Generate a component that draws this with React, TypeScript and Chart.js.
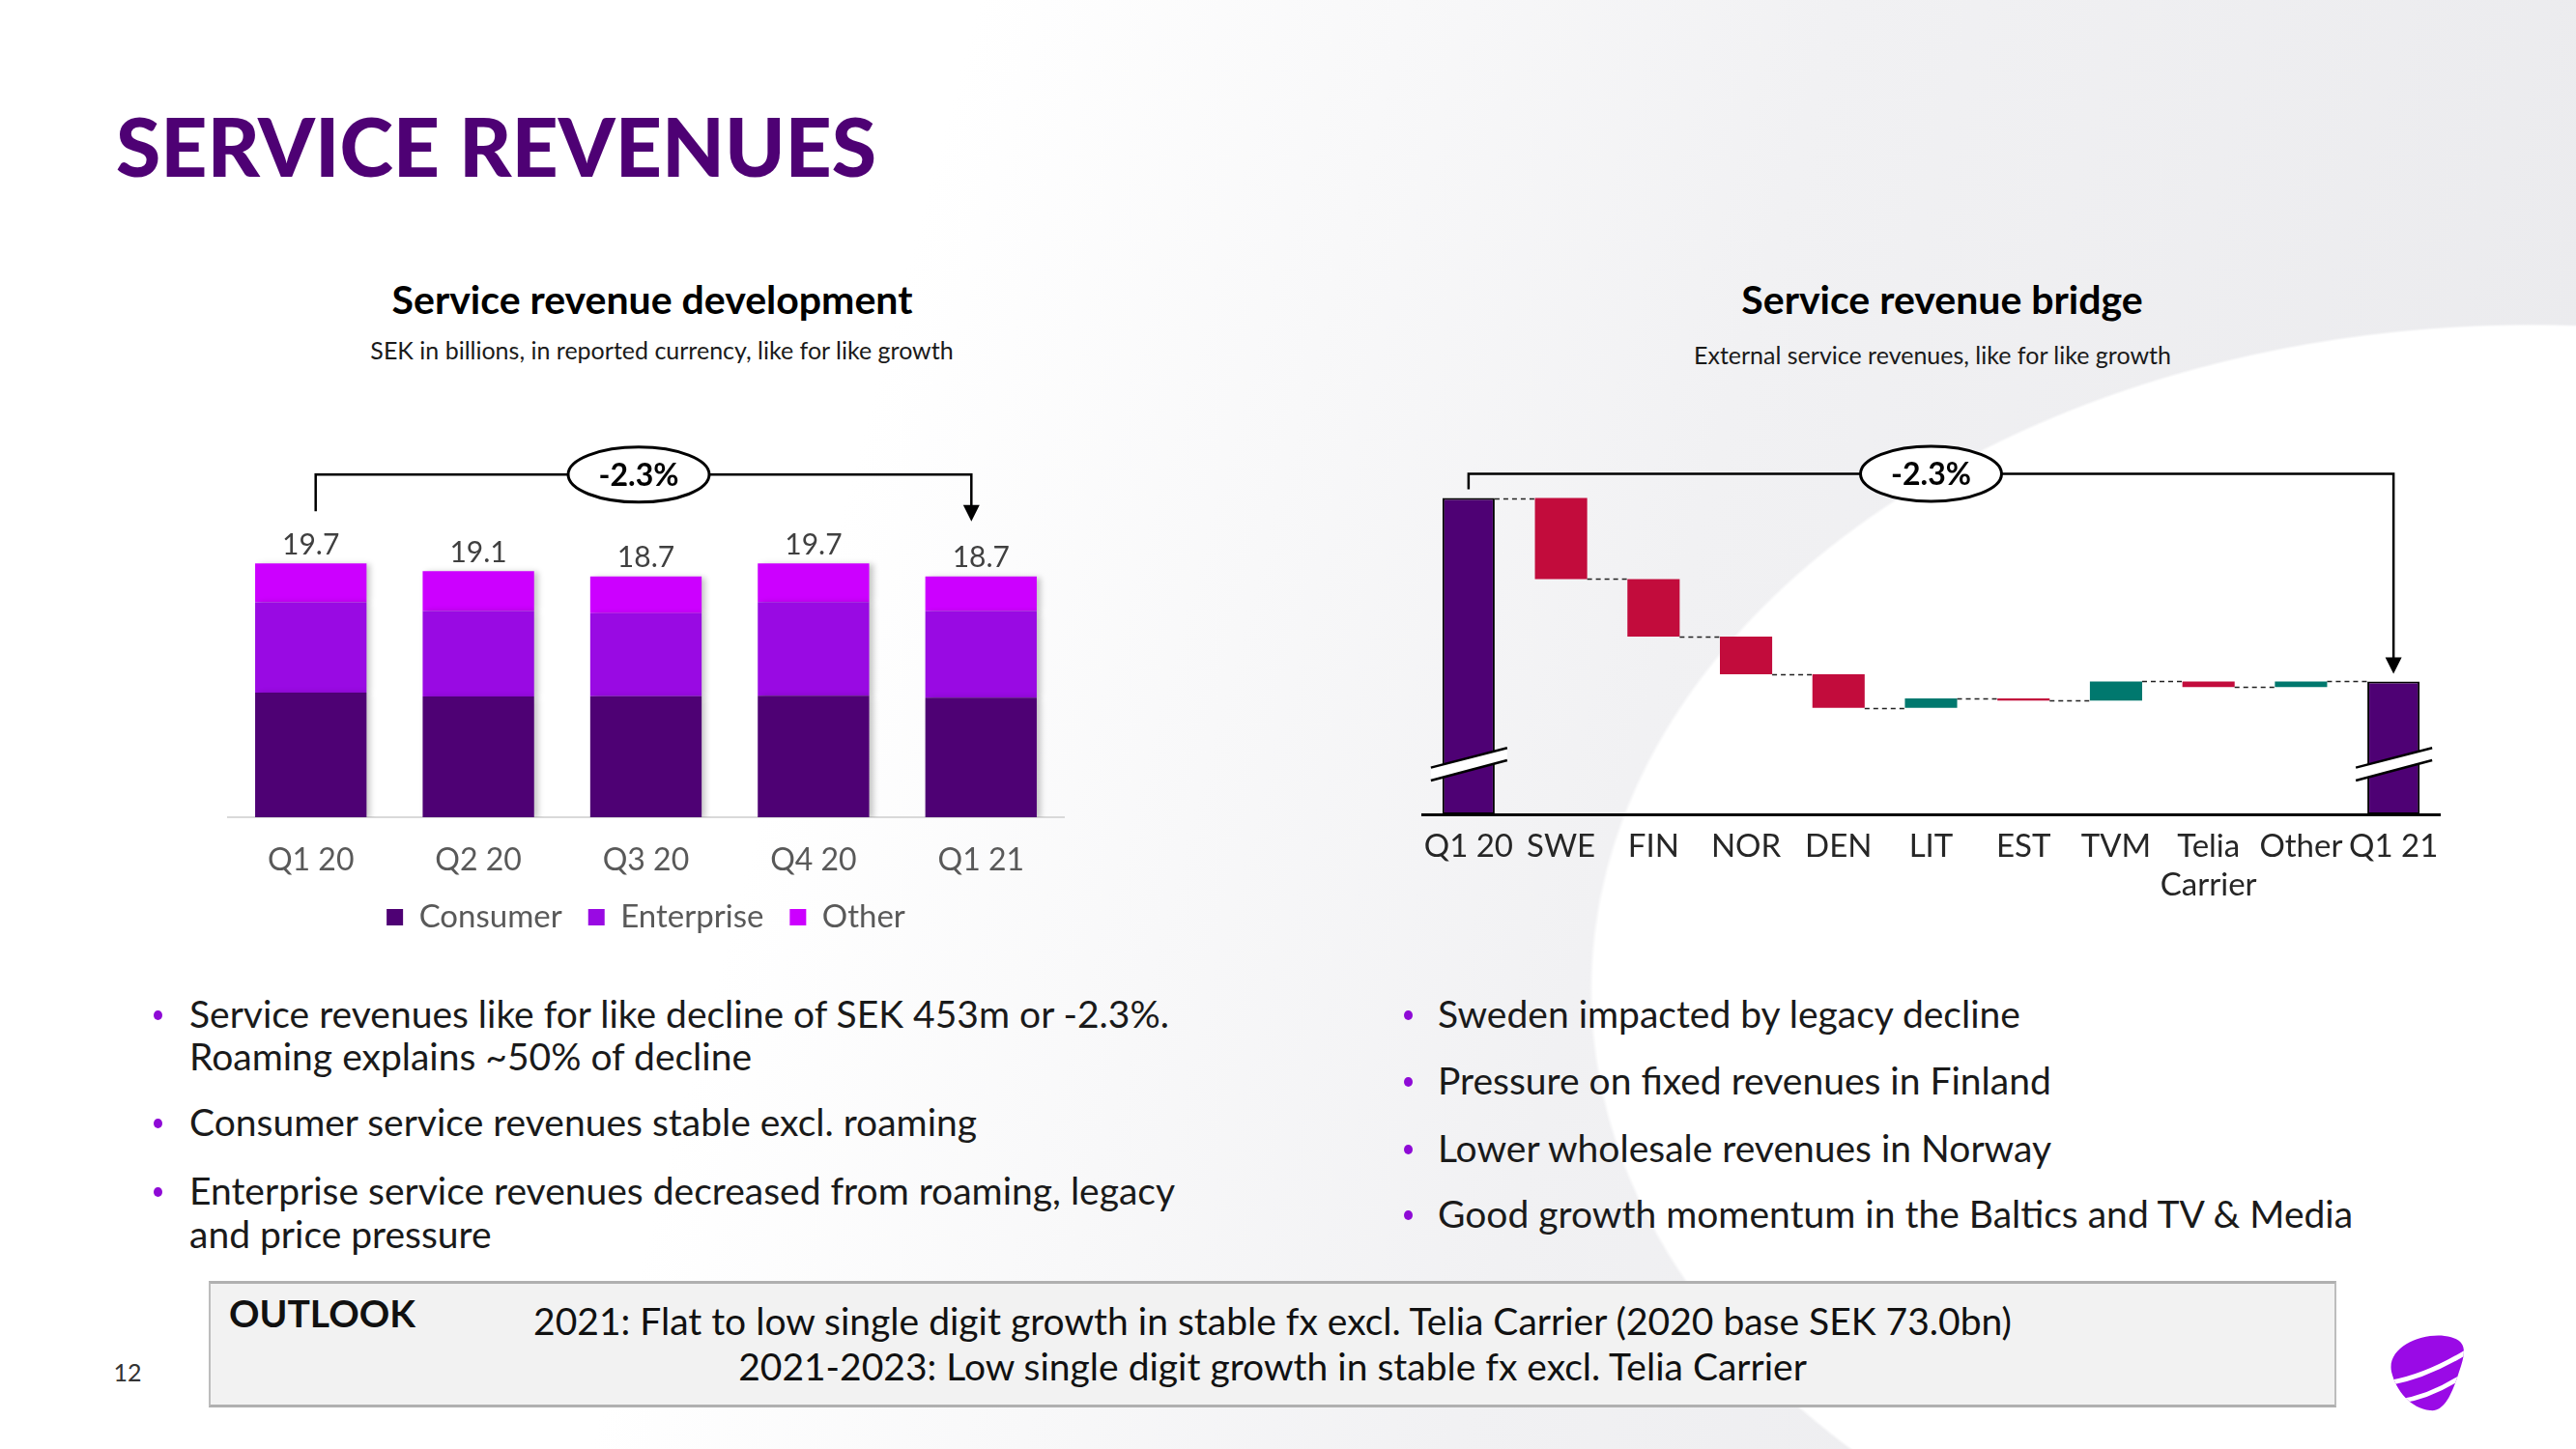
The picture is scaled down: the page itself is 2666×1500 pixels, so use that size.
import React, { useEffect, useRef } from 'react';
import { Chart, registerables } from 'chart.js';

Chart.register(...registerables);

// ---------- Left chart data (SEK bn) ----------
const QUARTERS = ['Q1 20', 'Q2 20', 'Q3 20', 'Q4 20', 'Q1 21'];
const CONSUMER = [9.68, 9.37, 9.39, 9.43, 9.29];
const ENTERPRISE = [7.01, 6.65, 6.46, 7.28, 6.72];
const OTHER = [3.01, 3.08, 2.85, 2.99, 2.69];
const SERIES_NAMES = ['Consumer', 'Enterprise', 'Other'];

// ---------- Right chart data (SEK m) ----------
const BRIDGE_LABELS: (string | string[])[] = ['Q1 20', 'SWE', 'FIN', 'NOR', 'DEN', 'LIT', 'EST', 'TVM', ['Telia', 'Carrier'], 'Other', 'Q1 21'];
const BRIDGE_START = 19696;
const BRIDGE_DELTAS = [-200, -142, -93, -83, 23, -5, 47, -14, 14];
const BRIDGE_AXIS_MIN = 18915;
const BRIDGE_AXIS_MAX = 19900;

const GROWTH_LABEL = '-2.3%';

const C_CONSUMER = '#4e0174';
const C_ENTERPRISE = '#990ae3';
const C_OTHER = '#cc00ff';
const C_RED = '#c20c3c';
const C_TEAL = '#00786e';

function drawBracket(ctx: CanvasRenderingContext2D, xL: number, xR: number, cx: number, yBar: number, legBottom: number, tipY: number, label: string) {
  ctx.save();
  ctx.strokeStyle = '#000';
  ctx.lineWidth = 2.5;
  ctx.beginPath();
  ctx.moveTo(xL, legBottom);
  ctx.lineTo(xL, yBar);
  ctx.lineTo(xR, yBar);
  ctx.lineTo(xR, tipY - 14);
  ctx.stroke();
  ctx.fillStyle = '#000';
  ctx.beginPath();
  ctx.moveTo(xR - 8.5, tipY - 17);
  ctx.lineTo(xR + 8.5, tipY - 17);
  ctx.lineTo(xR, tipY);
  ctx.closePath();
  ctx.fill();
  ctx.beginPath();
  ctx.ellipse(cx, yBar, 73, 28.5, 0, 0, Math.PI * 2);
  ctx.fillStyle = '#fff';
  ctx.fill();
  ctx.lineWidth = 3;
  ctx.stroke();
  ctx.fillStyle = '#000';
  ctx.font = 'bold 32px Lato';
  ctx.textAlign = 'center';
  ctx.textBaseline = 'middle';
  ctx.fillText(label, cx, yBar + 1);
  ctx.restore();
}

type TProps = { x: number; y: number; text: string; size: number; weight?: number; color?: string; align?: 'left' | 'center' };
function T({ x, y, text, size, weight = 400, color = '#1a1a1a', align = 'left' }: TProps) {
  return (
    <div
      style={{
        position: 'absolute',
        left: x,
        top: y - 0.63 * size,
        fontSize: size,
        lineHeight: `${size * 1.2}px`,
        fontWeight: weight,
        color,
        whiteSpace: 'nowrap',
        transform: align === 'center' ? 'translateX(-50%)' : undefined,
        fontFamily: 'Lato, sans-serif',
      }}
    >
      {text}
    </div>
  );
}

function Dot({ x, y }: { x: number; y: number }) {
  return <div style={{ position: 'absolute', left: x - 4.5, top: y - 5, width: 9, height: 10, borderRadius: '50%', background: '#8e0ad6' }} />;
}

export default function App() {
  const leftRef = useRef<HTMLCanvasElement>(null);
  const rightRef = useRef<HTMLCanvasElement>(null);

  useEffect(() => {
    Chart.defaults.font.family = 'Lato';
    const totals = QUARTERS.map((_, i) => CONSUMER[i] + ENTERPRISE[i] + OTHER[i]);

    const leftPlugin = {
      id: 'leftDecor',
      beforeDatasetsDraw(chart: any) {
        const ctx = chart.ctx;
        ctx.save();
        ctx.shadowColor = 'rgba(0,0,0,0.22)';
        ctx.shadowBlur = 6;
        ctx.shadowOffsetX = 4;
        ctx.shadowOffsetY = 1;
      },
      afterDatasetsDraw(chart: any) {
        const ctx = chart.ctx as CanvasRenderingContext2D;
        ctx.restore();
        const yS = chart.scales.y;
        const meta = chart.getDatasetMeta(2);
        ctx.save();
        ctx.fillStyle = '#404040';
        ctx.font = '30px Lato';
        ctx.textAlign = 'center';
        ctx.textBaseline = 'middle';
        totals.forEach((t, i) => {
          const x = meta.data[i].x;
          ctx.fillText(t.toFixed(1), x, yS.getPixelForValue(t) - 19);
        });
        ctx.restore();
        const last = totals.length - 1;
        const y0 = yS.getPixelForValue(totals[0]);
        const yN = yS.getPixelForValue(totals[last]);
        const xL = meta.data[0].x + 5;
        const xR = meta.data[last].x - 10;
        drawBracket(ctx, xL, xR, (xL + xR) / 2 - 5, y0 - 92, y0 - 54, yN - 57, GROWTH_LABEL);
      },
    };

    const c1 = new Chart(leftRef.current!, {
      type: 'bar',
      data: {
        labels: QUARTERS,
        datasets: [
          { label: SERIES_NAMES[0], data: CONSUMER, backgroundColor: C_CONSUMER },
          { label: SERIES_NAMES[1], data: ENTERPRISE, backgroundColor: C_ENTERPRISE },
          { label: SERIES_NAMES[2], data: OTHER, backgroundColor: C_OTHER },
        ],
      },
      options: {
        responsive: false,
        animation: false,
        layout: { padding: { top: 46, bottom: 5, left: 0, right: 0 } },
        datasets: { bar: { barPercentage: 0.665, categoryPercentage: 1 } },
        scales: {
          x: {
            stacked: true,
            grid: { display: false, drawTicks: false },
            border: { display: true, color: '#d9d9d9', width: 2 },
            ticks: { color: '#595959', font: { size: 32 }, padding: 25 },
            afterFit: (s: any) => { s.height = 60; },
          },
          y: { stacked: true, display: false, min: 0, max: 27 },
        },
        plugins: {
          legend: {
            position: 'bottom',
            labels: { boxWidth: 17, boxHeight: 17, color: '#595959', font: { size: 33 }, padding: 27 },
          },
          tooltip: { enabled: false },
        },
      },
      plugins: [leftPlugin],
    } as any);

    // waterfall
    const bars: number[][] = [];
    const levels: number[] = [];
    const colors: string[] = [];
    const borders: number[] = [];
    let level = BRIDGE_START;
    bars.push([BRIDGE_AXIS_MIN, BRIDGE_START]);
    levels.push(level);
    colors.push(C_CONSUMER);
    borders.push(2);
    BRIDGE_DELTAS.forEach((d) => {
      const next = level + d;
      bars.push([Math.min(level, next), Math.max(level, next)]);
      colors.push(d < 0 ? C_RED : C_TEAL);
      borders.push(0);
      level = next;
      levels.push(level);
    });
    bars.push([BRIDGE_AXIS_MIN, level]);
    levels.push(level);
    colors.push(C_CONSUMER);
    borders.push(2);

    const rightPlugin = {
      id: 'rightDecor',
      afterDatasetsDraw(chart: any) {
        const ctx = chart.ctx as CanvasRenderingContext2D;
        const yS = chart.scales.y;
        const meta = chart.getDatasetMeta(0);
        const els = meta.data;
        ctx.save();
        ctx.strokeStyle = '#222';
        ctx.lineWidth = 1.5;
        ctx.setLineDash([5, 4]);
        for (let i = 0; i < els.length - 1; i++) {
          const y = Math.round(yS.getPixelForValue(levels[i])) + 0.5;
          const a = els[i];
          const b = els[i + 1];
          ctx.beginPath();
          ctx.moveTo(a.x + a.width / 2, y);
          ctx.lineTo(b.x - b.width / 2, y);
          ctx.stroke();
        }
        ctx.restore();
        // break marks
        const yc = chart.chartArea.bottom - 52;
        [0, els.length - 1].forEach((i) => {
          const x = els[i].x;
          const xl = x - 39;
          const xr = x + 40;
          ctx.save();
          ctx.fillStyle = '#fff';
          ctx.beginPath();
          ctx.moveTo(xl, yc + 3.6);
          ctx.lineTo(xr, yc - 16.7);
          ctx.lineTo(xr, yc - 4);
          ctx.lineTo(xl, yc + 17);
          ctx.closePath();
          ctx.fill();
          ctx.strokeStyle = '#000';
          ctx.lineWidth = 2.5;
          ctx.beginPath();
          ctx.moveTo(xl, yc + 3.6);
          ctx.lineTo(xr, yc - 16.7);
          ctx.moveTo(xl, yc + 17);
          ctx.lineTo(xr, yc - 4);
          ctx.stroke();
          ctx.restore();
        });
        const yStart = yS.getPixelForValue(levels[0]);
        const yEnd = yS.getPixelForValue(levels[levels.length - 1]);
        const xL = els[0].x;
        const xR = els[els.length - 1].x;
        drawBracket(ctx, xL, xR, (xL + xR) / 2, yStart - 25, yStart - 9, yEnd - 8, GROWTH_LABEL);
      },
    };

    const c2 = new Chart(rightRef.current!, {
      type: 'bar',
      data: {
        labels: BRIDGE_LABELS,
        datasets: [
          {
            label: 'Bridge',
            data: bars,
            backgroundColor: colors,
            borderColor: '#000',
            borderWidth: borders,
            borderSkipped: false,
          },
        ],
      },
      options: {
        responsive: false,
        animation: false,
        layout: { padding: { top: 50, bottom: 7, left: 12, right: 12 } },
        datasets: { bar: { barPercentage: 0.565, categoryPercentage: 1 } },
        scales: {
          x: {
            grid: { display: false, drawTicks: false },
            border: { display: true, color: '#000', width: 3 },
            ticks: { color: '#262626', font: { size: 33, lineHeight: 1.212 }, padding: 13, maxRotation: 0, autoSkip: false },
            afterFit: (s: any) => { s.height = 100; },
          },
          y: { display: false, min: BRIDGE_AXIS_MIN, max: BRIDGE_AXIS_MAX },
        },
        plugins: { legend: { display: false }, tooltip: { enabled: false } },
      },
      plugins: [rightPlugin],
    } as any);

    return () => {
      c1.destroy();
      c2.destroy();
    };
  }, []);

  const bg =
    'radial-gradient(975px 690px at 2620px 1025px, #ffffff 0%, #ffffff 99.6%, rgba(255,255,255,0) 100%), ' +
    'linear-gradient(105deg, #ffffff 33%, #f1f1f3 62%, #e9e9ec 100%)';

  return (
    <div style={{ position: 'fixed', left: 0, top: 0, width: 2666, height: 1500, overflow: 'hidden', background: bg, fontFamily: 'Lato, sans-serif' }}>
      <T x={120} y={154} text="SERVICE REVENUES" size={84} weight={900} color="#4e0174" />

      <T x={675} y={311} text="Service revenue development" size={41} weight={700} color="#000" align="center" />
      <T x={685} y={363} text="SEK in billions, in reported currency, like for like growth" size={25} color="#1a1a1a" align="center" />
      <T x={2010} y={311} text="Service revenue bridge" size={41} weight={700} color="#000" align="center" />
      <T x={2000} y={368} text="External service revenues, like for like growth" size={25} color="#1a1a1a" align="center" />

      <canvas ref={leftRef} width={867} height={541} style={{ position: 'absolute', left: 235, top: 440, width: 867, height: 541 }} />
      <canvas ref={rightRef} width={1077} height={570} style={{ position: 'absolute', left: 1460, top: 380, width: 1077, height: 570 }} />

      <Dot x={163} y={1051} />
      <T x={196} y={1051} text="Service revenues like for like decline of SEK 453m or -2.3%." size={39} />
      <T x={196} y={1095} text="Roaming explains ~50% of decline" size={39} />
      <Dot x={163} y={1163} />
      <T x={196} y={1163} text="Consumer service revenues stable excl. roaming" size={39} />
      <Dot x={163} y={1234} />
      <T x={196} y={1234} text="Enterprise service revenues decreased from roaming, legacy" size={39} />
      <T x={196} y={1279} text="and price pressure" size={39} />

      <Dot x={1457} y={1051} />
      <T x={1488} y={1051} text="Sweden impacted by legacy decline" size={39} />
      <Dot x={1457} y={1120} />
      <T x={1488} y={1120} text="Pressure on fixed revenues in Finland" size={39} />
      <Dot x={1457} y={1190} />
      <T x={1488} y={1190} text="Lower wholesale revenues in Norway" size={39} />
      <Dot x={1457} y={1258} />
      <T x={1488} y={1258} text="Good growth momentum in the Baltics and TV & Media" size={39} />

      <div
        style={{
          position: 'absolute',
          left: 216,
          top: 1326,
          width: 2202,
          height: 131,
          boxSizing: 'border-box',
          background: '#f2f2f2',
          border: '2px solid #bdbdbd',
          borderTop: '3px solid #b0b0b0',
          borderBottom: '3px solid #b0b0b0',
        }}
      />
      <T x={237} y={1361} text="OUTLOOK" size={39} weight={700} color="#111" />
      <T x={1317} y={1369} text="2021: Flat to low single digit growth in stable fx excl. Telia Carrier (2020 base SEK 73.0bn)" size={39} color="#111" align="center" />
      <T x={1317} y={1416} text="2021-2023: Low single digit growth in stable fx excl. Telia Carrier" size={39} color="#111" align="center" />

      <T x={132} y={1421} text="12" size={25} color="#333" align="center" />

      <svg width={100} height={100} viewBox="0 0 100 100" style={{ position: 'absolute', left: 2460, top: 1370 }}>
        <defs>
          <clipPath id="eggClip">
            <path d="M 15 50 C 10 25, 45 10, 70 13 C 95 16, 92 30, 85 50 C 78 72, 70 92, 55 90 C 35 88, 20 70, 15 50 Z" />
          </clipPath>
        </defs>
        <g clipPath="url(#eggClip)">
          <rect x={0} y={0} width={100} height={100} fill="#9a0ae6" />
          <path d="M 10 62 Q 50 56 95 28" stroke="#fff" strokeWidth={5} fill="none" />
          <path d="M 22 81 Q 58 76 95 50" stroke="#fff" strokeWidth={4.5} fill="none" />
        </g>
      </svg>
    </div>
  );
}
